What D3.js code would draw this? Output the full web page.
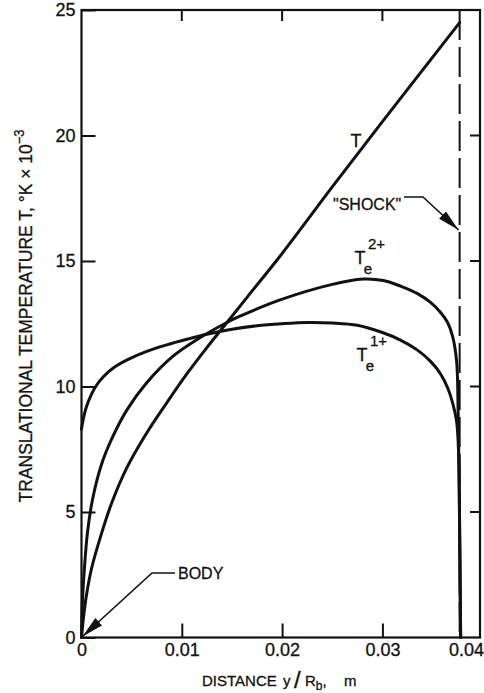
<!DOCTYPE html>
<html>
<head>
<meta charset="utf-8">
<script src="https://cdn.jsdelivr.net/npm/d3@7"></script>
<style>
  html, body { margin: 0; padding: 0; background: #fff; }
  svg { display: block; }
  text { font-family: "Liberation Sans", Arial, sans-serif; fill: #111; }
</style>
</head>
<body>
<svg id="chart" width="484" height="693"></svg>
<script>
// Distance from the body (y/R_b) and temperatures (°K × 10^-3)
const tX   = [0, 0.0002, 0.0005, 0.001, 0.002, 0.003, 0.0045, 0.0065, 0.0085, 0.0105, 0.0125, 0.014, 0.0166, 0.02, 0.025, 0.03, 0.0377];
const tY   = [0, 0.8, 1.7, 2.75, 4.15, 5.35, 6.75, 8.15, 9.35, 10.5, 11.55, 12.3, 13.6, 15.3, 17.95, 20.55, 24.5];

const te2X = [0, 0.0001, 0.0003, 0.0006, 0.0011, 0.002, 0.003, 0.0045, 0.0065, 0.0091, 0.0118, 0.0145, 0.0158, 0.0198, 0.0248, 0.0281, 0.0301, 0.0318, 0.0335, 0.0348, 0.0358, 0.0365, 0.037, 0.0374, 0.03755, 0.0377, 0.0378];
const te2Y = [0, 1.5, 2.8, 4.2, 5.5, 6.9, 7.9, 9.05, 10.15, 11.2, 11.94, 12.55, 12.8, 13.45, 14.05, 14.28, 14.22, 14.0, 13.7, 13.35, 12.95, 12.55, 12.0, 11.0, 9.0, 4.5, 0];

const te1X = [0, 0.0002, 0.0005, 0.001, 0.0015, 0.0022, 0.0031, 0.0045, 0.0065, 0.0085, 0.0105, 0.0125, 0.015, 0.0175, 0.02, 0.0225, 0.025, 0.0275, 0.03, 0.0318, 0.0335, 0.0348, 0.0358, 0.0365, 0.037, 0.0374, 0.0376, 0.0377, 0.0378];
const te1Y = [8.3, 8.75, 9.2, 9.7, 10.05, 10.4, 10.72, 11.05, 11.4, 11.66, 11.88, 12.08, 12.28, 12.42, 12.5, 12.55, 12.53, 12.44, 12.15, 11.85, 11.45, 11.0, 10.5, 9.95, 9.35, 8.6, 7.3, 4.0, 0];

const shockX = 0.0377;

const xTicks = [0, 0.01, 0.02, 0.03];
const xTickLabels = ["0", "0.01", "0.02", "0.03"];
const xLastLabel = "0.04";
const yTicks = [0, 5, 10, 15, 20, 25];
const yTickLabels = ["0", "5", "10", "15", "20", "25"];
const innerYTicks = [5, 10, 15, 20];
const innerXTicks = [0.01, 0.02, 0.03];

const svg = d3.select("#chart");
const pLeft = 81.5, pRight = 480, pTop = 10, pBottom = 637.5;

const x = d3.scaleLinear().domain([0, 0.03973]).range([pLeft, pRight]);
const y = d3.scaleLinear().domain([0, 25]).range([pBottom, pTop]);

// frame
svg.append("rect")
  .attr("x", pLeft).attr("y", pTop)
  .attr("width", pRight - pLeft).attr("height", pBottom - pTop)
  .attr("fill", "none").attr("stroke", "#111").attr("stroke-width", 2.2);

// left axis (ticks pointing inward)
const yAxis = d3.axisLeft(y).tickValues(yTicks)
  .tickFormat((d, i) => yTickLabels[i]).tickSize(-14).tickPadding(6);
const gy = svg.append("g").attr("transform", `translate(${pLeft},0)`).call(yAxis);
gy.select(".domain").remove();
gy.selectAll(".tick line").attr("stroke", "#111").attr("stroke-width", 2);
gy.selectAll(".tick text").attr("font-size", 18).attr("font-family", "Liberation Sans, Arial, sans-serif")
  .attr("fill", "#111").attr("stroke", "#111").attr("stroke-width", 0.3);

// bottom axis
const xAxis = d3.axisBottom(x).tickValues(xTicks)
  .tickFormat((d, i) => xTickLabels[i]).tickSize(-14).tickPadding(6);
const gx = svg.append("g").attr("transform", `translate(0,${pBottom})`).call(xAxis);
gx.select(".domain").remove();
gx.selectAll(".tick line").attr("stroke", "#111").attr("stroke-width", 2)
  .attr("display", d => d === 0 ? "none" : null);
gx.selectAll(".tick text").attr("font-size", 18).attr("font-family", "Liberation Sans, Arial, sans-serif")
  .attr("fill", "#111").attr("stroke", "#111").attr("stroke-width", 0.3);
svg.append("text")
  .attr("x", 484).attr("y", pBottom + 6).attr("dy", "0.71em")
  .attr("text-anchor", "end").attr("font-size", 18)
  .attr("stroke", "#111").attr("stroke-width", 0.3)
  .text(xLastLabel);

// top and right tick marks
svg.append("g").selectAll("line").data(innerXTicks).join("line")
  .attr("x1", d => x(d)).attr("x2", d => x(d))
  .attr("y1", pTop).attr("y2", pTop + 11)
  .attr("stroke", "#111").attr("stroke-width", 2);
svg.append("g").selectAll("line").data(innerYTicks).join("line")
  .attr("x1", pRight).attr("x2", pRight - 10)
  .attr("y1", d => y(d)).attr("y2", d => y(d))
  .attr("stroke", "#111").attr("stroke-width", 2);

// shock position
svg.append("line")
  .attr("x1", x(shockX)).attr("x2", x(shockX))
  .attr("y1", pTop).attr("y2", pBottom)
  .attr("stroke", "#111").attr("stroke-width", 2)
  .attr("stroke-dasharray", "30,7");

// temperature profiles
const line = d3.line().x(d => x(d[0])).y(d => y(d[1])).curve(d3.curveCatmullRom.alpha(0.5));
const series = [
  d3.zip(tX, tY),
  d3.zip(te2X, te2Y),
  d3.zip(te1X, te1Y)
];
svg.append("g").selectAll("path").data(series).join("path")
  .attr("d", line)
  .attr("fill", "none").attr("stroke", "#111").attr("stroke-width", 3)
  .attr("stroke-linejoin", "round").attr("stroke-linecap", "round");

// curve labels
svg.append("text").attr("x", 356).attr("y", 147)
  .attr("text-anchor", "middle").attr("font-size", 18)
  .attr("stroke", "#111").attr("stroke-width", 0.3).text("T");

function teLabel(cx, baseY, sup) {
  const g = svg.append("g").attr("stroke", "#111").attr("stroke-width", 0.3);
  g.append("text").attr("x", cx).attr("y", baseY)
    .attr("text-anchor", "middle").attr("font-size", 18).text("T");
  g.append("text").attr("x", cx + 8).attr("y", baseY - 15)
    .attr("font-size", 15).text(sup);
  g.append("text").attr("x", cx + 8).attr("y", baseY + 10)
    .attr("text-anchor", "middle").attr("font-size", 15).text("e");
}
teLabel(360, 264, "2+");
teLabel(362, 361, "1+");

// annotation arrows
const defs = svg.append("defs");
defs.append("marker")
  .attr("id", "arrow").attr("viewBox", "0 0 22 10")
  .attr("refX", 22).attr("refY", 5)
  .attr("markerWidth", 22).attr("markerHeight", 10)
  .attr("markerUnits", "userSpaceOnUse")
  .attr("orient", "auto")
  .append("path").attr("d", "M0,0 L22,5 L0,10 Z").attr("fill", "#111");

svg.append("text").attr("x", 333).attr("y", 210)
  .attr("font-size", 16).attr("stroke", "#111").attr("stroke-width", 0.3)
  .text("\"SHOCK\"");
svg.append("path")
  .attr("d", `M404,197 L423,197 L${x(shockX) - 1},230`)
  .attr("fill", "none").attr("stroke", "#111").attr("stroke-width", 1.6)
  .attr("marker-end", "url(#arrow)");

svg.append("text").attr("x", 178).attr("y", 579)
  .attr("font-size", 16).attr("stroke", "#111").attr("stroke-width", 0.3)
  .text("BODY");
svg.append("path")
  .attr("d", `M175,573 L152,573 L${x(0) + 1},${y(0) - 1}`)
  .attr("fill", "none").attr("stroke", "#111").attr("stroke-width", 1.6)
  .attr("marker-end", "url(#arrow)");

// axis titles
const xt = svg.append("text").attr("y", 686).attr("font-size", 15)
  .attr("stroke", "#111").attr("stroke-width", 0.3);
xt.append("tspan").attr("x", 202).text("DISTANCE");
xt.append("tspan").attr("x", 283).text("y");
xt.append("tspan").attr("x", 294).attr("font-size", 24).attr("dy", 2).text("/");
xt.append("tspan").attr("x", 305).attr("dy", -2).text("R");
xt.append("tspan").attr("font-size", 12).attr("dy", 4).text("b");
xt.append("tspan").attr("dy", -4).text(",");
xt.append("tspan").attr("x", 344).text("m");

const yg = svg.append("g");
const yt = yg.append("text").attr("x", 0).attr("y", 0)
  .attr("text-anchor", "middle").attr("font-size", 19)
  .attr("stroke", "#111").attr("stroke-width", 0.3);
yt.append("tspan").text("TRANSLATIONAL TEMPERATURE T,  °K × 10");
yt.append("tspan").attr("font-size", 14).attr("dy", -8).text("−3");
const yLen = yt.node().getComputedTextLength();
yg.attr("transform", `translate(32,316) rotate(-90) scale(${373 / yLen},1)`);
</script>
</body>
</html>
